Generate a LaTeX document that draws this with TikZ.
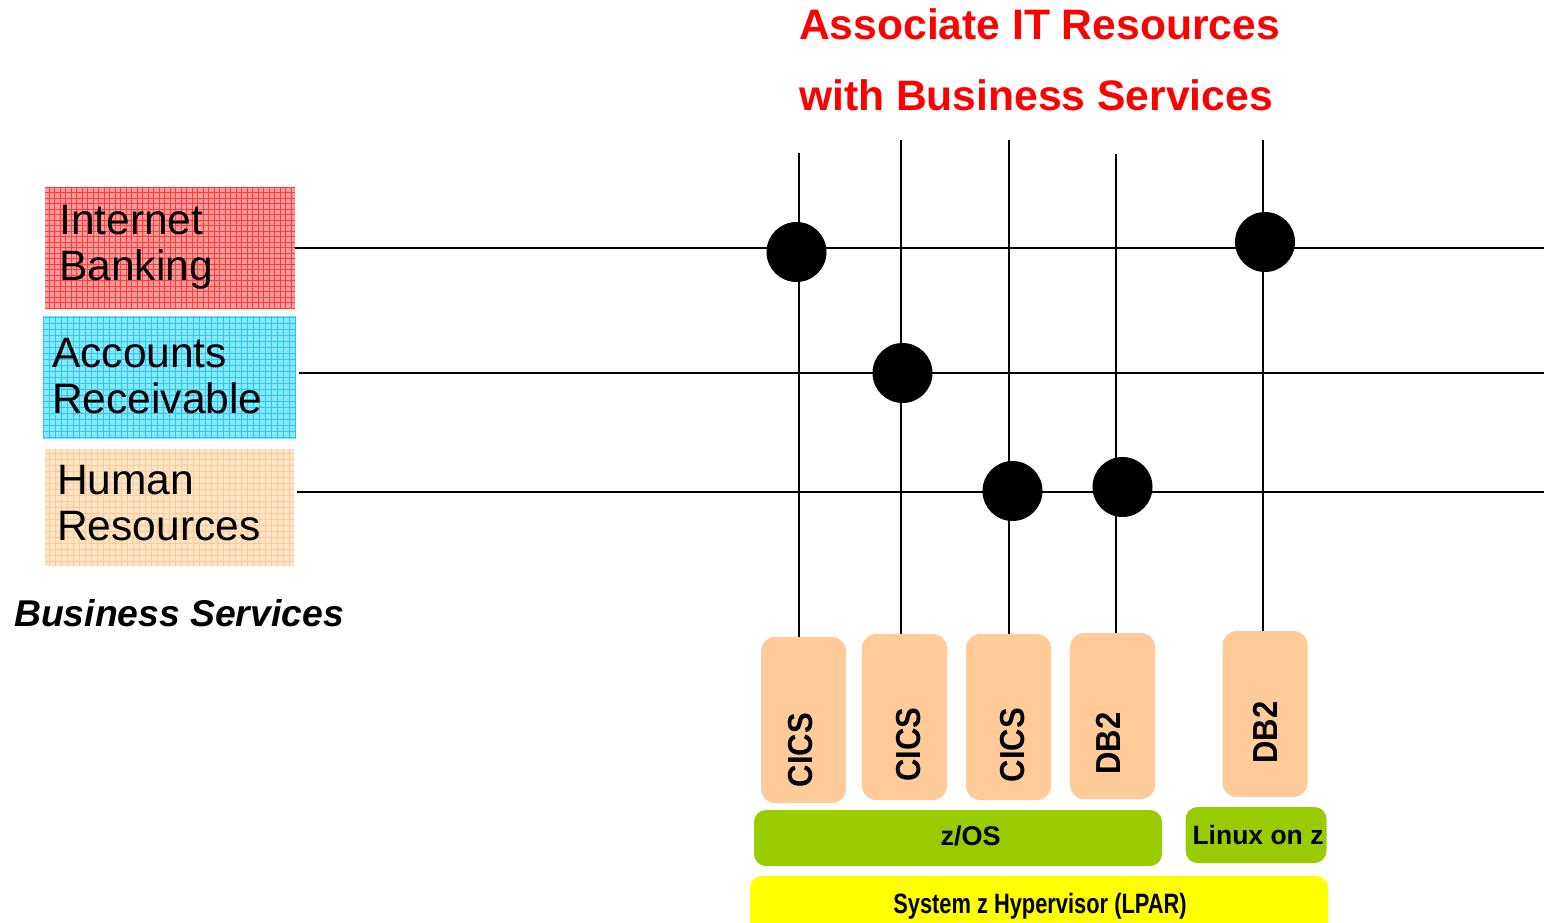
\documentclass[tikz,border=0pt]{standalone}
\usepackage{fontspec}
\setmainfont{Liberation Sans}
\definecolor{ibbase}{HTML}{FF9A9A}
\definecolor{ibline}{HTML}{FF3A3A}
\definecolor{arbase}{HTML}{8AE6FF}
\definecolor{arline}{HTML}{22C8F8}
\definecolor{hrbase}{HTML}{FFE4C8}
\definecolor{hrline}{HTML}{FFC996}
\definecolor{peach}{HTML}{FFCC99}
\definecolor{osgreen}{HTML}{99CC00}
\definecolor{hypyellow}{HTML}{FFFF00}
\definecolor{titlered}{HTML}{FF0000}
\begin{document}
\begin{tikzpicture}[x=1pt,y=-1pt,
  svcbox/.style={rectangle, draw=none, inner sep=0pt},
  svctext/.style={anchor=north west, inner sep=0pt, align=left, font=\fontsize{42.5}{46}\selectfont},
  title/.style={anchor=base west, inner sep=0pt, text=titlered, font=\fontsize{42.6}{50}\selectfont\bfseries},
  wire/.style={line width=2pt, black},
  dot/.style={circle, fill=black, inner sep=0pt, minimum size=60pt},
  resbox/.style={rectangle, rounded corners=14pt, fill=peach, draw=none, inner sep=0pt, minimum width=85pt, minimum height=166pt},
  restext/.style={inner sep=0pt, rotate=90, yscale=1.12, font=\fontsize{31}{36}\selectfont\bfseries},
  osbox/.style={rectangle, rounded corners=12pt, fill=osgreen, draw=none, inner sep=0pt, minimum height=56pt},
  ostext/.style={inner sep=0pt, font=\fontsize{27}{32}\selectfont\bfseries},
]
\useasboundingbox (0,0) rectangle (1544,923);

% business service boxes
\node[svcbox, fill=ibbase, minimum width=250pt, minimum height=121pt,
  path picture={\draw[ibline, line width=1pt, step=5.5pt] (path picture bounding box.south west) grid (path picture bounding box.north east);}]
  (ib) at (170,247.5) {};
\node[svcbox, fill=arbase, minimum width=253pt, minimum height=123pt,
  path picture={\draw[arline, line width=1pt, step=6pt] (path picture bounding box.south west) grid (path picture bounding box.north east);}]
  (ar) at (169.5,377.5) {};
\node[svcbox, fill=hrbase, minimum width=249pt, minimum height=117pt,
  path picture={\draw[hrline, line width=1pt, step=6pt] (path picture bounding box.south west) grid (path picture bounding box.north east);}]
  (hr) at (169.5,507.5) {};

\node[svctext] (ibt) at (59,205) {Internet\\Banking};
\node[svctext] (art) at (52,338) {Accounts\\Receivable};
\node[svctext] (hrt) at (57,465) {Human\\Resources};

\node[anchor=base west, inner sep=0pt, font=\fontsize{37.3}{44}\selectfont\bfseries\itshape]
  (bs) at (14,626) {Business Services};

% title
\node[title] (t1) at (799,40) {Associate IT Resources};
\node[title] (t2) at (799,111) {with Business Services};

% resource boxes
\node[resbox] (r1) at (803.5,720) {};
\node[resbox] (r2) at (904.5,717) {};
\node[resbox] (r3) at (1008.5,717) {};
\node[resbox] (r4) at (1112.5,716) {};
\node[resbox] (r5) at (1265,714) {};

\node[restext] (r1t) at (800.5,750) {CICS};
\node[restext] (r2t) at (909,744.5) {CICS};
\node[restext] (r3t) at (1013,745) {CICS};
\node[restext] (r4t) at (1108.5,743.5) {DB2};
\node[restext] (r5t) at (1265,732.5) {DB2};

% OS boxes
\node[osbox, minimum width=408pt] (zos) at (958,838) {};
\node[osbox, minimum width=141pt] (lnx) at (1256,835) {};
\node[ostext] (zost) at (970.5,835.5) {z/OS};
\node[ostext, font=\fontsize{26.5}{32}\selectfont\bfseries] (lnxt) at (1258,835.5) {Linux on z};

% hypervisor
\node[rectangle, rounded corners=12pt, fill=hypyellow, draw=none, inner sep=0pt,
  minimum width=578pt, minimum height=64pt] (hyp) at (1039,908) {};
\node[anchor=base, inner sep=0pt, xscale=0.78, font=\fontsize{28}{32}\selectfont\bfseries]
  (hypt) at (1040,913) {System z Hypervisor (LPAR)};

% horizontal wires
\coordinate (rightedge) at (1544,0);
\coordinate (h1s) at (295,248);
\coordinate (h2s) at (299,373);
\coordinate (h3s) at (297,492);
\draw[wire] (h1s) -- (h1s -| rightedge);
\draw[wire] (h2s) -- (h2s -| rightedge);
\draw[wire] (h3s) -- (h3s -| rightedge);

% vertical wires
\coordinate (v1) at (799,153);
\coordinate (v2) at (901,140);
\coordinate (v3) at (1009,140);
\coordinate (v4) at (1116,154);
\coordinate (v5) at (1263,140);
\draw[wire] (v1) -- (v1 |- r1.north);
\draw[wire] (v2) -- (v2 |- r2.north);
\draw[wire] (v3) -- (v3 |- r3.north);
\draw[wire] (v4) -- (v4 |- r4.north);
\draw[wire] (v5) -- (v5 |- r5.north);

% association dots
\node[dot] (d1) at (796.5,252) {};
\node[dot] (d2) at (902.5,373) {};
\node[dot] (d3) at (1012.5,491) {};
\node[dot] (d4) at (1122.5,487) {};
\node[dot] (d5) at (1265,242) {};
\end{tikzpicture}
\end{document}
